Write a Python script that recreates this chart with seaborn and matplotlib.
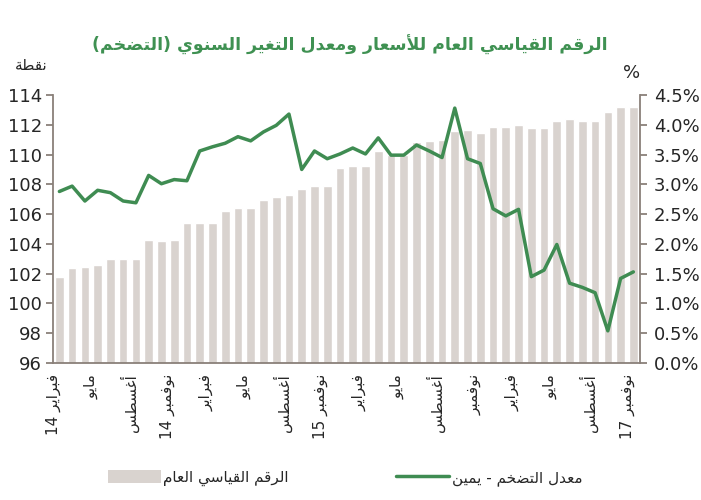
import re

import numpy as np
import pandas as pd
import matplotlib
matplotlib.use("Agg")
import matplotlib.pyplot as plt
import matplotlib.transforms as mtransforms
import seaborn as sns
from matplotlib.patches import Patch
from matplotlib.lines import Line2D

# General price index (points), monthly Feb 2014 .. Nov 2017
CPI = [101.78, 102.39, 102.48, 102.57, 102.97, 102.97, 102.97, 104.29, 104.22, 104.29,
       105.39, 105.37, 105.43, 106.20, 106.38, 106.38, 106.96, 107.12, 107.27, 107.70,
       107.88, 107.88, 109.11, 109.20, 109.20, 110.23, 110.00, 110.00, 110.86, 110.90,
       110.97, 111.60, 111.62, 111.47, 111.87, 111.87, 111.96, 111.78, 111.78, 112.27,
       112.36, 112.27, 112.27, 112.86, 113.19, 113.19]

# Annual inflation rate (%), same months
INFLATION = [2.88, 2.97, 2.72, 2.90, 2.86, 2.72, 2.69, 3.15, 3.01, 3.08,
             3.06, 3.56, 3.63, 3.69, 3.80, 3.73, 3.88, 3.99, 4.18, 3.25,
             3.56, 3.43, 3.51, 3.61, 3.51, 3.78, 3.49, 3.49, 3.66, 3.56,
             3.45, 4.28, 3.43, 3.35, 2.59, 2.47, 2.58, 1.45, 1.56, 1.99,
             1.34, 1.27, 1.18, 0.54, 1.42, 1.53]

TICK_LABELS = ["فبراير 14", "مايو", "أغسطس", "نوفمبر 14",
               "فبراير", "مايو", "أغسطس", "نوفمبر 15",
               "فبراير", "مايو", "أغسطس", "نوفمبر",
               "فبراير", "مايو", "أغسطس", "نوفمبر 17"]

LEFT_TICKS = [96, 98, 100, 102, 104, 106, 108, 110, 112, 114]
RIGHT_TICKS = [0.0, 0.5, 1.0, 1.5, 2.0, 2.5, 3.0, 3.5, 4.0, 4.5]

TITLE = "الرقم القياسي العام للأسعار ومعدل التغير السنوي (التضخم)"
LEFT_UNIT = "نقطة"
BAR_LABEL = "الرقم القياسي العام"
LINE_LABEL = "معدل التضخم - يمين"

BAR_COLOR = "#d9d3cf"
LINE_COLOR = "#3f8c52"
TITLE_COLOR = "#3f9152"
SPINE_COLOR = "#8a8079"
TEXT_COLOR = "#262626"

# presentation forms: (isolated code point, number of forms)
AR_FORMS = {
    'ء': (0xFE80, 1), 'آ': (0xFE81, 2), 'أ': (0xFE83, 2), 'ؤ': (0xFE85, 2),
    'إ': (0xFE87, 2), 'ئ': (0xFE89, 4), 'ا': (0xFE8D, 2), 'ب': (0xFE8F, 4),
    'ة': (0xFE93, 2), 'ت': (0xFE95, 4), 'ث': (0xFE99, 4), 'ج': (0xFE9D, 4),
    'ح': (0xFEA1, 4), 'خ': (0xFEA5, 4), 'د': (0xFEA9, 2), 'ذ': (0xFEAB, 2),
    'ر': (0xFEAD, 2), 'ز': (0xFEAF, 2), 'س': (0xFEB1, 4), 'ش': (0xFEB5, 4),
    'ص': (0xFEB9, 4), 'ض': (0xFEBD, 4), 'ط': (0xFEC1, 4), 'ظ': (0xFEC5, 4),
    'ع': (0xFEC9, 4), 'غ': (0xFECD, 4), 'ف': (0xFED1, 4), 'ق': (0xFED5, 4),
    'ك': (0xFED9, 4), 'ل': (0xFEDD, 4), 'م': (0xFEE1, 4), 'ن': (0xFEE5, 4),
    'ه': (0xFEE9, 4), 'و': (0xFEED, 2), 'ى': (0xFEEF, 2), 'ي': (0xFEF1, 4),
}
LAM_ALEF = {'آ': 0xFEF5, 'أ': 0xFEF7, 'إ': 0xFEF9, 'ا': 0xFEFB}


def joins_next(ch):
    return ch in AR_FORMS and AR_FORMS[ch][1] == 4


def ar(text):
    """
    Shape Arabic text and put it in visual order, since matplotlib
    does neither by itself.
    """
    out = []
    i = 0
    while i < len(text):
        ch = text[i]
        if ch not in AR_FORMS:
            out.append(ch)
            i += 1
            continue
        prev_joins = i > 0 and joins_next(text[i - 1])
        if ch == 'ل' and i + 1 < len(text) and text[i + 1] in LAM_ALEF:
            out.append(chr(LAM_ALEF[text[i + 1]] + (1 if prev_joins else 0)))
            i += 2
            continue
        base, nforms = AR_FORMS[ch]
        next_ok = nforms == 4 and i + 1 < len(text) and text[i + 1] in AR_FORMS
        if prev_joins and next_ok:
            k = 3
        elif prev_joins:
            k = 1
        elif next_ok:
            k = 2
        else:
            k = 0
        out.append(chr(base + k))
        i += 1

    shaped = ''.join(out)
    mirror = {'(': ')', ')': '('}
    runs = [r for r in re.split(r'(\d+)', shaped) if r]
    visual = []
    for run in reversed(runs):
        if run.isdigit():
            visual.append(run)
        else:
            visual.append(''.join(mirror.get(c, c) for c in reversed(run)))
    return ''.join(visual)


def plot_price_index():
    """
    Bars for the price index (left axis), line for inflation (right axis).
    """
    months = pd.period_range("2014-02", periods=len(CPI), freq="M").strftime("%Y-%m")
    df = pd.DataFrame({"Month": months, "CPI": CPI, "Inflation": INFLATION})
    df["Pos"] = np.arange(len(df))

    fig = plt.figure(figsize=(7.01, 5.0), dpi=100)
    ax = fig.add_axes([0.0756, 0.274, 0.837, 0.536])

    sns.barplot(data=df, x="Month", y="CPI", color=BAR_COLOR, width=0.68,
                saturation=1, ax=ax)
    ax.set_ylim(96, 114)
    ax.set_yticks(LEFT_TICKS)
    ax.set_ylabel("")
    ax.set_xlabel("")

    ax2 = ax.twinx()
    sns.lineplot(data=df, x="Pos", y="Inflation", color=LINE_COLOR,
                 linewidth=2.5, ax=ax2)
    ax2.set_ylim(0, 4.5)
    ax2.set_yticks(RIGHT_TICKS)
    ax2.set_yticklabels([f"{v:.1f}%" for v in RIGHT_TICKS])
    ax2.set_ylabel("")
    ax2.set_xlabel("")

    ax.set_xlim(-0.5, len(df) - 0.5)
    ax.set_xticks([i * 3 - 0.5 for i in range(len(TICK_LABELS))])
    ax.set_xticklabels([ar(t) for t in TICK_LABELS], rotation=90)
    # labels sit a little to the right of their ticks in the original
    shift = mtransforms.ScaledTranslation(3 / 100, 0, fig.dpi_scale_trans)
    for label in ax.get_xticklabels():
        label.set_transform(label.get_transform() + shift)

    for a in (ax, ax2):
        for side in a.spines:
            a.spines[side].set_color(SPINE_COLOR)
            a.spines[side].set_linewidth(1.3)
        a.spines["top"].set_visible(False)
    ax.spines["right"].set_visible(False)
    ax2.spines["left"].set_visible(False)
    ax2.spines["bottom"].set_visible(False)

    ax.tick_params(axis="y", length=5, width=1.3, color=SPINE_COLOR,
                   labelsize=13, labelcolor=TEXT_COLOR, pad=3)
    ax.tick_params(axis="x", length=5, width=1.3, color=SPINE_COLOR,
                   labelsize=11, labelcolor=TEXT_COLOR, pad=3)
    ax2.tick_params(axis="y", length=5, width=1.3, color=SPINE_COLOR,
                    labelsize=13, labelcolor=TEXT_COLOR, pad=5)

    fig.text(0.499, 0.91, ar(TITLE), ha="center", va="center",
             fontsize=12.5, fontweight="bold", color=TITLE_COLOR)
    fig.text(0.044, 0.868, ar(LEFT_UNIT), ha="center", va="center",
             fontsize=11, color=TEXT_COLOR)
    fig.text(0.9016, 0.854, "%", ha="center", va="center",
             fontsize=13, color=TEXT_COLOR)

    handles = [Patch(facecolor=BAR_COLOR, edgecolor="none"),
               Line2D([], [], color=LINE_COLOR, linewidth=2.5)]
    fig.legend(handles, [ar(BAR_LABEL), ar(LINE_LABEL)], loc="center",
               bbox_to_anchor=(0.492, 0.044), ncol=2, frameon=False,
               fontsize=11, handlelength=3.5, handleheight=0.9,
               handletextpad=0.15, columnspacing=7.0, labelcolor=TEXT_COLOR)

    fig.savefig("out.png", dpi=100)


if __name__ == "__main__":
    sns.set_style("white")
    plt.rcParams["font.family"] = ["DejaVu Sans"]
    plot_price_index()
